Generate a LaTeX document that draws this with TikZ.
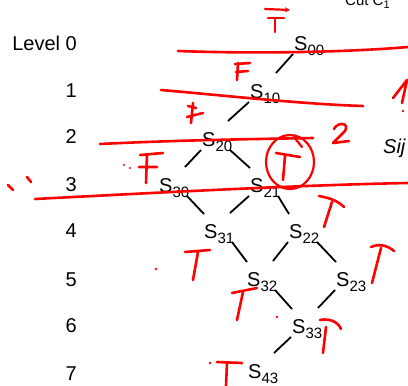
\documentclass[tikz,border=0pt]{standalone}
\usepackage{fontspec}
\setmainfont{Liberation Sans}
\usetikzlibrary{arrows.meta}
\definecolor{ink}{RGB}{255,0,0}
\newcommand\lowsub[1]{\raisebox{-5pt}{\fontsize{15}{15}\selectfont #1}}
\newcommand\ledge[2]{\draw[edge] ([shift={(-1,4)}]#1.base west) -- ([shift={(26,-25)}]#2.base west);}
\newcommand\redge[2]{\draw[edge] ([shift={(28,4)}]#1.base west) -- ([shift={(0,-24)}]#2.base west);}
\tikzset{
  state/.style={inner sep=0pt, anchor=base west, font=\fontsize{20}{24}\selectfont},
  lvl/.style={inner sep=0pt, anchor=base east, font=\fontsize{20}{24}\selectfont},
  edge/.style={line width=1.8pt, black},
  pen/.style={line width=2.6pt, ink, line cap=round, line join=round},
  thinpen/.style={line width=2.2pt, ink, line cap=round, line join=round},
}
\begin{document}
\begin{tikzpicture}[x=1pt,y=-1pt]
\useasboundingbox (0,0) rectangle (408,386);

% level labels
\node[lvl] (L0) at (77,50) {Level 0};
\node[lvl] (L1) at (77,97) {1};
\node[lvl] (L2) at (77,143) {2};
\node[lvl] (L3) at (77,191) {3};
\node[lvl] (L4) at (77,237) {4};
\node[lvl] (L5) at (77,286) {5};
\node[lvl] (L6) at (77,332) {6};
\node[lvl] (L7) at (77,380) {7};

% states
\node[state] (s00) at (294,50) {S\lowsub{00}};
\node[state] (s10) at (250,98) {S\lowsub{10}};
\node[state] (s20) at (202,146) {S\lowsub{20}};
\node[state] (s30) at (159,192) {S\lowsub{30}};
\node[state] (s21) at (250,192) {S\lowsub{21}};
\node[state] (s31) at (204,238) {S\lowsub{31}};
\node[state] (s22) at (289,238) {S\lowsub{22}};
\node[state] (s32) at (247,286) {S\lowsub{32}};
\node[state] (s23) at (336,286) {S\lowsub{23}};
\node[state] (s33) at (292,333) {S\lowsub{33}};
\node[state] (s43) at (248,378) {S\lowsub{43}};

% side texts
\node[state, font=\fontsize{20}{24}\selectfont\itshape] (sij) at (383,153) {Sij};
\node[state, font=\fontsize{15}{18}\selectfont] (cut) at (345,5)
  {Cut C\raisebox{-3pt}{\fontsize{11}{11}\selectfont 1}};

% transitions
\ledge{s00}{s10}
\ledge{s10}{s20}
\ledge{s20}{s30}
\redge{s20}{s21}
\redge{s30}{s31}
\ledge{s21}{s31}
\redge{s21}{s22}
\redge{s31}{s32}
\ledge{s22}{s32}
\redge{s22}{s23}
\redge{s32}{s33}
\ledge{s23}{s33}
\ledge{s33}{s43}

% cut lines
\draw[pen] (178,51) .. controls (260,54) and (350,52) .. (408,47);
\draw[pen] (161,90) .. controls (220,95) and (300,104) .. (363,106);
\draw[pen] (100,144) .. controls (180,140) and (260,139) .. (313,138);
\draw[pen] (35,199) .. controls (150,193) and (300,185) .. (408,183);

% marks: arrow T at top
\draw[thinpen, -{Stealth[length=5pt,width=5pt]}] (265,9) -- (290,10);
\draw[pen] (268,18) -- (284,18) (275,19) -- (275,32);
% F marks
\draw[pen] (235,64) -- (250,63) (236,72) -- (248,71) (238,63) -- (237,80);
\draw[pen] (188,106) -- (196,108) (187,117) -- (203,113) (193,103) -- (191,123);
\draw[pen] (140,155) -- (163,153) (139,167) -- (157,167) (147,155) -- (146,183);
\fill[ink] (124,165) circle (1.2) (130,168) circle (1.2);
% 1 with dot at right
\draw[pen] (393,98) -- (407,80) -- (402,103);
\fill[ink] (403,111) circle (1.3);
% 2
\draw[pen] (334,129) .. controls (337,122) and (350,122) .. (345,131) -- (333,143) -- (349,141);
% circled T
\draw[thinpen] (290,162) ellipse (24 and 27);
\draw[thinpen] (294,137) -- (302,147);
\draw[pen] (276,153) -- (300,157) (285,156) -- (283,180);
% ticks at left
\draw[pen] (8,185) -- (13,190) (27,177) -- (31,182);
% T marks
\draw[pen] (319,196) .. controls (330,198) and (338,201) .. (344,207) (332,202) -- (324,227);
\draw[pen] (185,252) -- (210,250) (198,252) -- (193,280);
\fill[ink] (156,269) circle (1.3);
\draw[pen] (371,247) .. controls (380,243) and (388,246) .. (394,251) (381,248) -- (372,283);
\draw[pen] (232,293) -- (257,288) (243,292) -- (237,320);
\fill[ink] (277,317) circle (1.3);
\draw[pen] (320,320) .. controls (330,318) and (338,322) .. (341,329) (326,327) -- (323,353);
\fill[ink] (210,363) circle (1.3);
\draw[pen] (217,362) -- (242,363) (227,363) -- (226,386);
\end{tikzpicture}
\end{document}
